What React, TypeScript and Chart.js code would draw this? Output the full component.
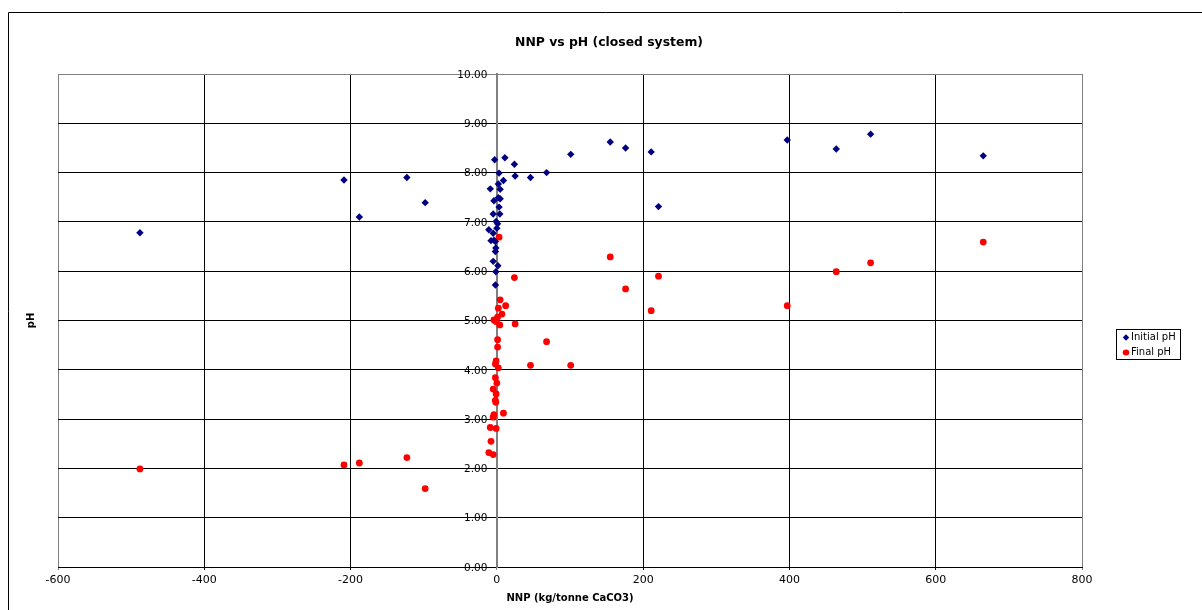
import React, { useEffect, useRef } from "react";
import { Chart, registerables } from "chart.js";

Chart.register(...registerables);

const titleText = "NNP vs pH (closed system)";
const xTitleText = "NNP (kg/tonne CaCO3)";
const yTitleText = "pH";
const seriesLabels = ["Initial pH", "Final pH"];

const initialNNP = [
  -488, -209, -188, -123, -98, 155, 176, 211, 221, 397, 464, 511, 665, 101, 68, 46,
  -3, 11, 24, 3, 25, 9, 2, -9, 4.5, -4, 4.5, 2, 3, -5, 4, -1, 1, -11, 0, -5, -8, -2, -4,
  -1.4, -2, -5, 1.4, -1.4, -2,
];
const initialPH = [
  6.78, 7.85, 7.10, 7.90, 7.39, 8.62, 8.50, 8.42, 7.31, 8.66, 8.48, 8.78, 8.34, 8.37, 8.00, 7.90,
  8.26, 8.30, 8.17, 7.99, 7.93, 7.84, 7.77, 7.67, 7.66, 7.43, 7.47, 7.49, 7.30, 7.16, 7.16, 7.01,
  6.96, 6.84, 6.87, 6.77, 6.62, 6.60, 6.63, 6.47, 6.40, 6.20, 6.11, 5.99, 5.72,
];
const finalNNP = [
  -488, -209, -188, -123, -98, 155, 176, 211, 221, 397, 464, 511, 665, 101, 68, 46, 25, 24, 3,
  4.5, 2, 12, 7, 1, -4, -1, 4, 1, 1, -1, -2, 2, -2, 0, -5, -1, -2, -1.4, 9, -4, -5, -9, -1, -8,
  -11, -5,
];
const finalPH = [
  1.99, 2.07, 2.11, 2.22, 1.59, 6.29, 5.64, 5.20, 5.90, 5.30, 5.99, 6.17, 6.59, 4.09, 4.57, 4.09,
  4.93, 5.87, 6.69, 5.42, 5.25, 5.30, 5.13, 5.07, 5.01, 4.98, 4.91, 4.61, 4.46, 4.18, 4.12, 4.04,
  3.84, 3.73, 3.61, 3.51, 3.38, 3.34, 3.12, 3.09, 3.04, 2.83, 2.81, 2.55, 2.32, 2.28,
];

const xMin = -600;
const xMax = 800;
const xStep = 200;
const yMin = 0;
const yMax = 10;
const yStep = 1;

const FONT = "'DejaVu Sans', sans-serif";
const BLUE = "#000080";
const RED = "#FF0000";
const GREY = "#808080";

const decor = {
  id: "decor",
  afterDraw(chart: any) {
    const ctx = chart.ctx as CanvasRenderingContext2D;
    const xs = chart.scales.x;
    const ys = chart.scales.y;
    ctx.save();
    // outer chart frame
    ctx.strokeStyle = "#000";
    ctx.lineWidth = 1;
    ctx.beginPath();
    ctx.moveTo(8.5, 610);
    ctx.lineTo(8.5, 12.5);
    ctx.lineTo(1202, 12.5);
    ctx.stroke();

    ctx.fillStyle = "#000";
    // title
    ctx.font = `bold 12.4px ${FONT}`;
    ctx.textAlign = "center";
    ctx.textBaseline = "alphabetic";
    ctx.fillText(titleText, 609, 45.5);
    // x title
    ctx.font = `bold 10px ${FONT}`;
    ctx.fillText(xTitleText, (xs.left + xs.right) / 2, 601);
    // y title
    ctx.save();
    ctx.translate(34, 320.5);
    ctx.rotate(-Math.PI / 2);
    ctx.fillText(yTitleText, 0, 0);
    ctx.restore();

    // y tick labels beside the y axis crossing at x = 0
    ctx.font = `10.5px ${FONT}`;
    ctx.textAlign = "right";
    ctx.textBaseline = "middle";
    const x0 = xs.getPixelForValue(0);
    ys.ticks.forEach((t: any) => {
      ctx.fillText(Number(t.value).toFixed(2), x0 - 9.5, ys.getPixelForValue(t.value) + 1);
    });

    // legend
    const lx = 1116.5, ly = 329.5, lw = 64, lh = 30;
    ctx.fillStyle = "#fff";
    ctx.fillRect(lx, ly, lw, lh);
    ctx.strokeStyle = "#000";
    ctx.strokeRect(lx, ly, lw, lh);
    const rows = [337.5, 352.5];
    // diamond
    ctx.fillStyle = BLUE;
    ctx.beginPath();
    ctx.moveTo(1126, rows[0] - 3.2);
    ctx.lineTo(1129.2, rows[0]);
    ctx.lineTo(1126, rows[0] + 3.2);
    ctx.lineTo(1122.8, rows[0]);
    ctx.closePath();
    ctx.fill();
    // circle
    ctx.fillStyle = RED;
    ctx.beginPath();
    ctx.ellipse(1126, rows[1], 3.3, 3, 0, 0, Math.PI * 2);
    ctx.fill();
    ctx.fillStyle = "#000";
    ctx.font = `10px ${FONT}`;
    ctx.textAlign = "left";
    ctx.textBaseline = "middle";
    ctx.fillText(seriesLabels[0], 1131, rows[0]);
    ctx.fillText(seriesLabels[1], 1131, rows[1]);
    ctx.restore();
  },
};

export default function App() {
  const ref = useRef<HTMLCanvasElement>(null);
  useEffect(() => {
    const chart = new Chart(ref.current as HTMLCanvasElement, {
      type: "scatter",
      data: {
        datasets: [
          {
            label: seriesLabels[0],
            data: initialNNP.map((x, i) => ({ x, y: initialPH[i] })),
            pointStyle: "rectRot",
            pointRadius: 3.7,
            backgroundColor: BLUE,
            borderColor: BLUE,
            borderWidth: 0,
          },
          {
            label: seriesLabels[1],
            data: finalNNP.map((x, i) => ({ x, y: finalPH[i] })),
            pointStyle: "circle",
            pointRadius: 3.4,
            backgroundColor: RED,
            borderColor: RED,
            borderWidth: 0,
          },
        ],
      },
      options: {
        animation: false,
        responsive: false,
        devicePixelRatio: 1,
        events: [],
        layout: { padding: { left: 58, top: 74, right: 120, bottom: 0 } },
        plugins: {
          legend: { display: false },
          title: { display: false },
          tooltip: { enabled: false },
        },
        scales: {
          x: {
            type: "linear",
            position: "bottom",
            min: xMin,
            max: xMax,
            ticks: {
              stepSize: xStep,
              color: "#000",
              font: { family: FONT, size: 11 },
              padding: 4,
              maxRotation: 0,
            },
            grid: {
              color: (c: any) =>
                c.tick && (c.tick.value === xMin || c.tick.value === xMax || c.tick.value === 0)
                  ? GREY
                  : "#000",
              lineWidth: 1,
              tickLength: 3,
              drawTicks: true,
            },
            border: { display: true, color: "#000", width: 1 },
            afterFit: (s: any) => {
              s.height = 43;
            },
          },
          y: {
            type: "linear",
            position: { x: 0 } as any,
            min: yMin,
            max: yMax,
            ticks: { stepSize: yStep, display: false },
            grid: {
              color: (c: any) => (c.tick && c.tick.value === yMax ? GREY : "#000"),
              lineWidth: 1,
              tickLength: 3,
              drawTicks: true,
            },
            border: { display: true, color: GREY, width: 2 },
          },
        },
      },
      plugins: [decor],
    });
    return () => chart.destroy();
  }, []);
  return (
    <canvas
      ref={ref}
      width={1202}
      height={610}
      style={{ position: "fixed", left: 0, top: 0, width: 1202, height: 610 }}
    />
  );
}
